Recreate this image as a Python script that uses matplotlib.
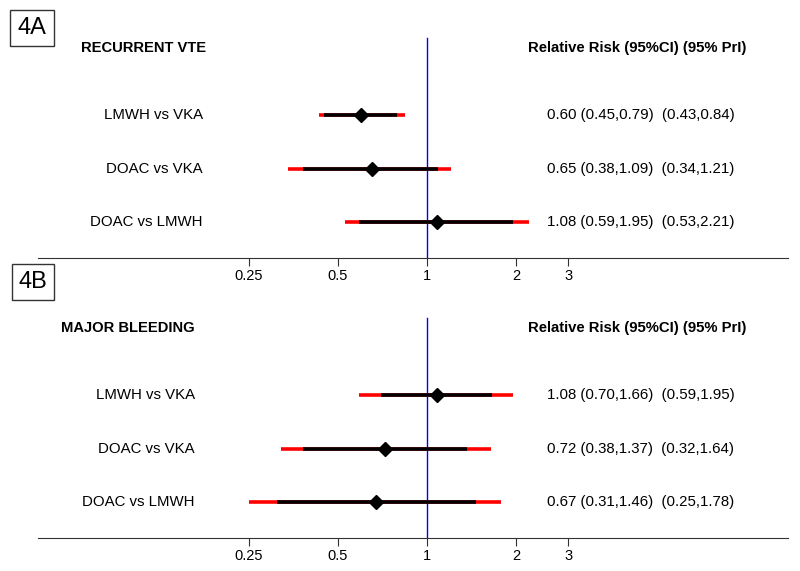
import matplotlib.pyplot as plt
import numpy as np

plt.rcParams['font.family'] = ['Liberation Sans', 'DejaVu Sans']

# data
comparisons = ["LMWH vs VKA", "DOAC vs VKA", "DOAC vs LMWH"]

vte_rr = [0.60, 0.65, 1.08]
vte_ci_lo = [0.45, 0.38, 0.59]
vte_ci_hi = [0.79, 1.09, 1.95]
vte_pi_lo = [0.43, 0.34, 0.53]
vte_pi_hi = [0.84, 1.21, 2.21]

bleed_rr = [1.08, 0.72, 0.67]
bleed_ci_lo = [0.70, 0.38, 0.31]
bleed_ci_hi = [1.66, 1.37, 1.46]
bleed_pi_lo = [0.59, 0.32, 0.25]
bleed_pi_hi = [1.95, 1.64, 1.78]

xticks = [0.25, 0.5, 1, 2, 3]
xtick_labels = ["0.25", "0.5", "1", "2", "3"]

W, H = 800, 571


def forest(ax, title, rr, ci_lo, ci_hi, pi_lo, pi_hi, title_x, label_x):
    rows = np.arange(len(rr))
    ax.set_xscale('log', base=2)
    ax.set_xlim(2 ** -4.371, 2 ** 4.056)
    ax.set_ylim(2.673, -2.15)
    # line of no effect
    ax.plot([1, 1], [-1.44, 2.673], color='#0000ff', lw=1, zorder=1)
    # prediction intervals (red) under confidence intervals (black)
    ax.hlines(rows, pi_lo, pi_hi, color='#ff0000', lw=2.6, zorder=2)
    ax.hlines(rows, ci_lo, ci_hi, color='black', lw=2.6, zorder=3)
    ax.plot(rr, rows, 'D', color='black', markersize=7, zorder=4)
    tr = ax.get_yaxis_transform()
    ax.text(title_x, -1.26, title, transform=tr, fontsize=10.6,
            fontweight='bold', va='center', ha='left')
    ax.text(0.653, -1.26, "Relative Risk (95%CI) (95% PrI)", transform=tr,
            fontsize=10.7, fontweight='bold', va='center', ha='left')
    for i in rows:
        ax.text(label_x, i, comparisons[i], transform=tr, fontsize=10.8,
                va='center', ha='right')
        txt = "%.2f (%.2f,%.2f)  (%.2f,%.2f)" % (rr[i], ci_lo[i], ci_hi[i],
                                                 pi_lo[i], pi_hi[i])
        ax.text(0.679, i, txt, transform=tr, fontsize=10.8,
                va='center', ha='left')
    #axis styling
    for spine in ["left", "right", "top"]:
        ax.spines[spine].set_visible(False)
    ax.spines["bottom"].set_color('#333333')
    ax.set_yticks([])
    ax.set_xticks(xticks)
    ax.set_xticklabels(xtick_labels)
    ax.minorticks_off()
    ax.tick_params(axis='x', length=6, pad=2, labelsize=10.5,
                   color='#333333')


def main():
    fig = plt.figure(figsize=(W / 100, H / 100), dpi=100)
    left = 38 / W
    width = 750 / W
    height = 258 / H
    ax1 = fig.add_axes([left, 1 - 258 / H, width, height])
    ax2 = fig.add_axes([left, 1 - 538 / H, width, height])
    forest(ax1, "RECURRENT VTE", vte_rr, vte_ci_lo, vte_ci_hi,
           vte_pi_lo, vte_pi_hi, 0.057, 0.22)
    forest(ax2, "MAJOR BLEEDING", bleed_rr, bleed_ci_lo, bleed_ci_hi,
           bleed_pi_lo, bleed_pi_hi, 0.031, 0.209)
    # panel tags
    box = dict(boxstyle='square,pad=0.3', facecolor='white',
               edgecolor='#333333', lw=1)
    fig.text(32 / W, 1 - 28 / H, "4A", fontsize=17, ha='center',
             va='center', bbox=box)
    fig.text(33 / W, 1 - 282 / H, "4B", fontsize=17, ha='center',
             va='center', bbox=box)
    fig.savefig("out.png", dpi=100)


if __name__ == "__main__":
    main()
